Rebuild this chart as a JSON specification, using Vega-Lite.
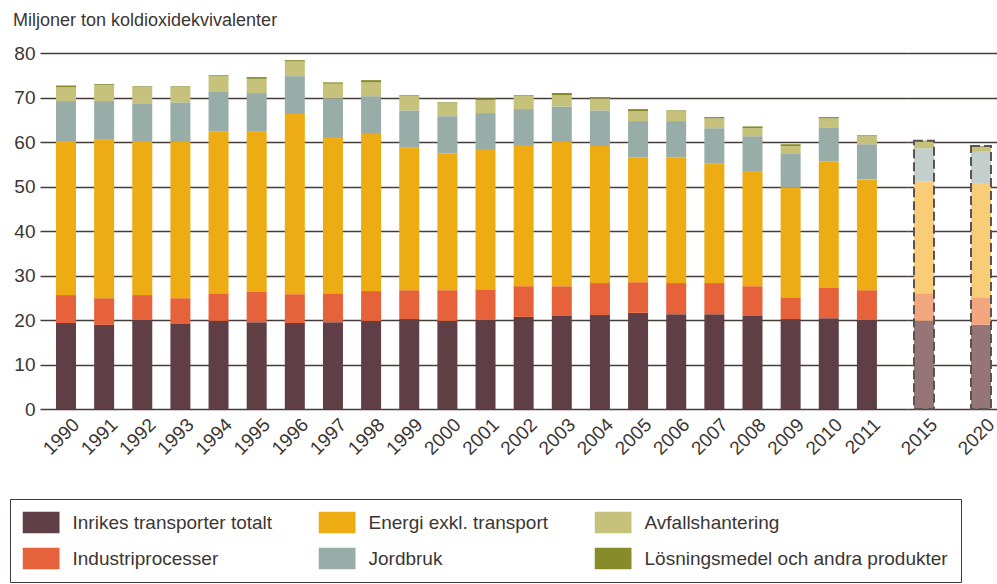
{
 "$schema": "https://vega.github.io/schema/vega-lite/v6.json",
 "padding": {"left": 9, "top": 12, "right": 0, "bottom": 0},
 "background": "white",
 "title": {"text": "Miljoner ton koldioxidekvivalenter", "anchor": "start", "frame": "group", "fontSize": 18, "fontWeight": "normal", "color": "#3b3634", "font": "Liberation Sans", "dx": -27, "offset": 14},
 "data": {"values": [
  {"ar":1990,"sektor":"Inrikes transporter totalt","varde":19.3},{"ar":1990,"sektor":"Industriprocesser","varde":6.3},{"ar":1990,"sektor":"Energi exkl. transport","varde":34.5},{"ar":1990,"sektor":"Jordbruk","varde":9.1},{"ar":1990,"sektor":"Avfallshantering","varde":3.1},{"ar":1990,"sektor":"Lösningsmedel och andra produkter","varde":0.4},
  {"ar":1991,"sektor":"Inrikes transporter totalt","varde":18.9},{"ar":1991,"sektor":"Industriprocesser","varde":6.0},{"ar":1991,"sektor":"Energi exkl. transport","varde":35.6},{"ar":1991,"sektor":"Jordbruk","varde":8.7},{"ar":1991,"sektor":"Avfallshantering","varde":3.6},{"ar":1991,"sektor":"Lösningsmedel och andra produkter","varde":0.2},
  {"ar":1992,"sektor":"Inrikes transporter totalt","varde":20.0},{"ar":1992,"sektor":"Industriprocesser","varde":5.6},{"ar":1992,"sektor":"Energi exkl. transport","varde":34.6},{"ar":1992,"sektor":"Jordbruk","varde":8.5},{"ar":1992,"sektor":"Avfallshantering","varde":3.6},{"ar":1992,"sektor":"Lösningsmedel och andra produkter","varde":0.2},
  {"ar":1993,"sektor":"Inrikes transporter totalt","varde":19.1},{"ar":1993,"sektor":"Industriprocesser","varde":5.8},{"ar":1993,"sektor":"Energi exkl. transport","varde":35.1},{"ar":1993,"sektor":"Jordbruk","varde":8.9},{"ar":1993,"sektor":"Avfallshantering","varde":3.4},{"ar":1993,"sektor":"Lösningsmedel och andra produkter","varde":0.2},
  {"ar":1994,"sektor":"Inrikes transporter totalt","varde":19.8},{"ar":1994,"sektor":"Industriprocesser","varde":6.2},{"ar":1994,"sektor":"Energi exkl. transport","varde":36.4},{"ar":1994,"sektor":"Jordbruk","varde":9.0},{"ar":1994,"sektor":"Avfallshantering","varde":3.4},{"ar":1994,"sektor":"Lösningsmedel och andra produkter","varde":0.2},
  {"ar":1995,"sektor":"Inrikes transporter totalt","varde":19.5},{"ar":1995,"sektor":"Industriprocesser","varde":6.8},{"ar":1995,"sektor":"Energi exkl. transport","varde":36.0},{"ar":1995,"sektor":"Jordbruk","varde":8.7},{"ar":1995,"sektor":"Avfallshantering","varde":3.2},{"ar":1995,"sektor":"Lösningsmedel och andra produkter","varde":0.4},
  {"ar":1996,"sektor":"Inrikes transporter totalt","varde":19.3},{"ar":1996,"sektor":"Industriprocesser","varde":6.5},{"ar":1996,"sektor":"Energi exkl. transport","varde":40.5},{"ar":1996,"sektor":"Jordbruk","varde":8.5},{"ar":1996,"sektor":"Avfallshantering","varde":3.3},{"ar":1996,"sektor":"Lösningsmedel och andra produkter","varde":0.3},
  {"ar":1997,"sektor":"Inrikes transporter totalt","varde":19.5},{"ar":1997,"sektor":"Industriprocesser","varde":6.5},{"ar":1997,"sektor":"Energi exkl. transport","varde":35.1},{"ar":1997,"sektor":"Jordbruk","varde":8.7},{"ar":1997,"sektor":"Avfallshantering","varde":3.3},{"ar":1997,"sektor":"Lösningsmedel och andra produkter","varde":0.3},
  {"ar":1998,"sektor":"Inrikes transporter totalt","varde":19.8},{"ar":1998,"sektor":"Industriprocesser","varde":6.7},{"ar":1998,"sektor":"Energi exkl. transport","varde":35.3},{"ar":1998,"sektor":"Jordbruk","varde":8.5},{"ar":1998,"sektor":"Avfallshantering","varde":3.1},{"ar":1998,"sektor":"Lösningsmedel och andra produkter","varde":0.5},
  {"ar":1999,"sektor":"Inrikes transporter totalt","varde":20.2},{"ar":1999,"sektor":"Industriprocesser","varde":6.5},{"ar":1999,"sektor":"Energi exkl. transport","varde":32.1},{"ar":1999,"sektor":"Jordbruk","varde":8.3},{"ar":1999,"sektor":"Avfallshantering","varde":3.2},{"ar":1999,"sektor":"Lösningsmedel och andra produkter","varde":0.2},
  {"ar":2000,"sektor":"Inrikes transporter totalt","varde":19.8},{"ar":2000,"sektor":"Industriprocesser","varde":6.9},{"ar":2000,"sektor":"Energi exkl. transport","varde":30.8},{"ar":2000,"sektor":"Jordbruk","varde":8.3},{"ar":2000,"sektor":"Avfallshantering","varde":2.9},{"ar":2000,"sektor":"Lösningsmedel och andra produkter","varde":0.2},
  {"ar":2001,"sektor":"Inrikes transporter totalt","varde":20.0},{"ar":2001,"sektor":"Industriprocesser","varde":6.9},{"ar":2001,"sektor":"Energi exkl. transport","varde":31.5},{"ar":2001,"sektor":"Jordbruk","varde":8.1},{"ar":2001,"sektor":"Avfallshantering","varde":2.9},{"ar":2001,"sektor":"Lösningsmedel och andra produkter","varde":0.4},
  {"ar":2002,"sektor":"Inrikes transporter totalt","varde":20.7},{"ar":2002,"sektor":"Industriprocesser","varde":6.9},{"ar":2002,"sektor":"Energi exkl. transport","varde":31.7},{"ar":2002,"sektor":"Jordbruk","varde":8.1},{"ar":2002,"sektor":"Avfallshantering","varde":2.9},{"ar":2002,"sektor":"Lösningsmedel och andra produkter","varde":0.2},
  {"ar":2003,"sektor":"Inrikes transporter totalt","varde":20.9},{"ar":2003,"sektor":"Industriprocesser","varde":6.7},{"ar":2003,"sektor":"Energi exkl. transport","varde":32.4},{"ar":2003,"sektor":"Jordbruk","varde":8.0},{"ar":2003,"sektor":"Avfallshantering","varde":2.5},{"ar":2003,"sektor":"Lösningsmedel och andra produkter","varde":0.5},
  {"ar":2004,"sektor":"Inrikes transporter totalt","varde":21.1},{"ar":2004,"sektor":"Industriprocesser","varde":7.2},{"ar":2004,"sektor":"Energi exkl. transport","varde":30.8},{"ar":2004,"sektor":"Jordbruk","varde":8.0},{"ar":2004,"sektor":"Avfallshantering","varde":2.7},{"ar":2004,"sektor":"Lösningsmedel och andra produkter","varde":0.3},
  {"ar":2005,"sektor":"Inrikes transporter totalt","varde":21.6},{"ar":2005,"sektor":"Industriprocesser","varde":6.9},{"ar":2005,"sektor":"Energi exkl. transport","varde":28.1},{"ar":2005,"sektor":"Jordbruk","varde":8.1},{"ar":2005,"sektor":"Avfallshantering","varde":2.2},{"ar":2005,"sektor":"Lösningsmedel och andra produkter","varde":0.5},
  {"ar":2006,"sektor":"Inrikes transporter totalt","varde":21.3},{"ar":2006,"sektor":"Industriprocesser","varde":7.0},{"ar":2006,"sektor":"Energi exkl. transport","varde":28.3},{"ar":2006,"sektor":"Jordbruk","varde":8.1},{"ar":2006,"sektor":"Avfallshantering","varde":2.2},{"ar":2006,"sektor":"Lösningsmedel och andra produkter","varde":0.2},
  {"ar":2007,"sektor":"Inrikes transporter totalt","varde":21.3},{"ar":2007,"sektor":"Industriprocesser","varde":7.0},{"ar":2007,"sektor":"Energi exkl. transport","varde":26.9},{"ar":2007,"sektor":"Jordbruk","varde":7.9},{"ar":2007,"sektor":"Avfallshantering","varde":2.2},{"ar":2007,"sektor":"Lösningsmedel och andra produkter","varde":0.3},
  {"ar":2008,"sektor":"Inrikes transporter totalt","varde":20.9},{"ar":2008,"sektor":"Industriprocesser","varde":6.7},{"ar":2008,"sektor":"Energi exkl. transport","varde":25.7},{"ar":2008,"sektor":"Jordbruk","varde":8.0},{"ar":2008,"sektor":"Avfallshantering","varde":1.8},{"ar":2008,"sektor":"Lösningsmedel och andra produkter","varde":0.4},
  {"ar":2009,"sektor":"Inrikes transporter totalt","varde":20.2},{"ar":2009,"sektor":"Industriprocesser","varde":4.9},{"ar":2009,"sektor":"Energi exkl. transport","varde":24.6},{"ar":2009,"sektor":"Jordbruk","varde":7.6},{"ar":2009,"sektor":"Avfallshantering","varde":1.8},{"ar":2009,"sektor":"Lösningsmedel och andra produkter","varde":0.4},
  {"ar":2010,"sektor":"Inrikes transporter totalt","varde":20.4},{"ar":2010,"sektor":"Industriprocesser","varde":6.8},{"ar":2010,"sektor":"Energi exkl. transport","varde":28.5},{"ar":2010,"sektor":"Jordbruk","varde":7.6},{"ar":2010,"sektor":"Avfallshantering","varde":2.0},{"ar":2010,"sektor":"Lösningsmedel och andra produkter","varde":0.3},
  {"ar":2011,"sektor":"Inrikes transporter totalt","varde":20.0},{"ar":2011,"sektor":"Industriprocesser","varde":6.7},{"ar":2011,"sektor":"Energi exkl. transport","varde":24.9},{"ar":2011,"sektor":"Jordbruk","varde":7.9},{"ar":2011,"sektor":"Avfallshantering","varde":1.8},{"ar":2011,"sektor":"Lösningsmedel och andra produkter","varde":0.2},
  {"ar":2015,"sektor":"Inrikes transporter totalt","varde":19.8},{"ar":2015,"sektor":"Industriprocesser","varde":6.2},{"ar":2015,"sektor":"Energi exkl. transport","varde":25.2},{"ar":2015,"sektor":"Jordbruk","varde":7.4},{"ar":2015,"sektor":"Avfallshantering","varde":1.5},{"ar":2015,"sektor":"Lösningsmedel och andra produkter","varde":0.2},
  {"ar":2020,"sektor":"Inrikes transporter totalt","varde":18.9},{"ar":2020,"sektor":"Industriprocesser","varde":6.2},{"ar":2020,"sektor":"Energi exkl. transport","varde":25.5},{"ar":2020,"sektor":"Jordbruk","varde":7.2},{"ar":2020,"sektor":"Avfallshantering","varde":1.1},{"ar":2020,"sektor":"Lösningsmedel och andra produkter","varde":0.2}
 ]},
 "transform": [
  {"calculate": "indexof(['Inrikes transporter totalt','Industriprocesser','Energi exkl. transport','Jordbruk','Avfallshantering','Lösningsmedel och andra produkter'], datum.sektor)", "as": "ordning"}
 ],
 "spacing": 0,
 "bounds": "flush",
 "resolve": {"scale": {"color": "independent", "y": "independent", "x": "independent"}},
 "hconcat": [
  {
   "width": 867, "height": 356,
   "transform": [{"filter": "datum.ar <= 2011"}],
   "mark": {"type": "bar", "width": 20},
   "encoding": {
    "x": {"field": "ar", "type": "ordinal", "scale": {"paddingInner": 0.4756, "paddingOuter": 0.604, "align": 0.347},
          "axis": {"title": null, "labelAngle": -45, "labelPadding": 6, "labelOffset": 4}},
    "y": {"field": "varde", "type": "quantitative", "stack": "zero", "scale": {"domain": [0, 80], "nice": false},
          "axis": {"title": null, "values": [0,10,20,30,40,50,60,70,80], "labelPadding": 5}},
    "order": {"field": "ordning", "type": "quantitative", "sort": "ascending"},
    "color": {"field": "sektor", "type": "nominal",
      "scale": {"domain": ["Inrikes transporter totalt","Industriprocesser","Energi exkl. transport","Jordbruk","Avfallshantering","Lösningsmedel och andra produkter"],
                "range": ["#5f3e45","#e6623b","#edab14","#98ada7","#c6c27b","#878b2a"]},
      "legend": {"title": null, "values": ["Inrikes transporter totalt","Energi exkl. transport","Avfallshantering","Industriprocesser","Jordbruk","Lösningsmedel och andra produkter"]}}
   }
  },
  {
   "width": 91, "height": 356,
   "transform": [{"filter": "datum.ar > 2011"}],
   "encoding": {
    "x": {"field": "ar", "type": "ordinal", "scale": {"paddingInner": 0.649, "paddingOuter": 0.1225},
          "axis": {"title": null, "labelAngle": -45, "labelPadding": 6, "labelOffset": 4}}
   },
   "layer": [
    {"mark": {"type": "bar", "width": 20},
     "encoding": {
      "y": {"field": "varde", "type": "quantitative", "stack": "zero", "scale": {"domain": [0, 80], "nice": false},
            "axis": {"title": null, "values": [0,10,20,30,40,50,60,70,80], "labels": false}},
      "order": {"field": "ordning", "type": "quantitative", "sort": "ascending"},
      "color": {"field": "sektor", "type": "nominal",
        "scale": {"domain": ["Inrikes transporter totalt","Industriprocesser","Energi exkl. transport","Jordbruk","Avfallshantering","Lösningsmedel och andra produkter"],
                  "range": ["#967579","#f2a77f","#f9cd78","#c3cfcc","#c6c27b","#9a9c4a"]},
        "legend": null}
     }},
    {"mark": {"type": "bar", "width": 20, "filled": false, "color": "#5a5350", "strokeWidth": 2, "strokeDash": [9, 4]},
     "encoding": {
      "y": {"aggregate": "sum", "field": "varde", "type": "quantitative"}
     }}
   ]
  }
 ],
 "config": {
  "view": {"stroke": null},
  "font": "Liberation Sans",
  "axis": {"labelFont": "Liberation Sans", "labelFontSize": 19, "labelColor": "#3b3634", "domain": false, "ticks": false, "gridColor": "#453d39", "gridWidth": 1.3, "gridOpacity": 1},
  "legend": {"orient": "none", "legendX": -30, "legendY": 446, "direction": "horizontal", "columns": 3,
    "strokeColor": "#3d3935", "strokeWidth": 1, "padding": 12.5,
    "symbolType": "M-1,-0.6H1V0.6H-1Z", "symbolSize": 1369, "symbolStrokeWidth": 0, "symbolOpacity": 1, "clipHeight": 22,
    "labelFont": "Liberation Sans", "labelFontSize": 19, "labelColor": "#3b3634", "labelOffset": 13, "labelLimit": 400,
    "columnPadding": 46, "rowPadding": 14}
 }
}
